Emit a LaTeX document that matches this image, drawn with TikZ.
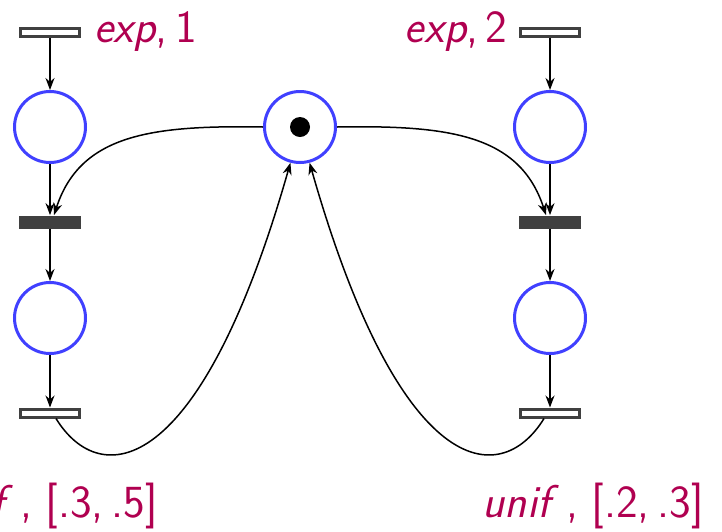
\documentclass[tikz,border=0pt]{standalone}
\usetikzlibrary{arrows.meta}
\definecolor{plblue}{RGB}{64,64,255}
\definecolor{lbl}{RGB}{176,0,80}
\definecolor{trgray}{RGB}{64,64,64}
\begin{document}
\begin{tikzpicture}[x=0.5pt,y=-0.5pt,
  place/.style={circle,draw=plblue,line width=1.5pt,minimum size=35.5pt,inner sep=0pt,fill=white},
  ttrans/.style={rectangle,draw=trgray,line width=1.5pt,minimum width=29.5pt,minimum height=4pt,inner sep=0pt,fill=white},
  itrans/.style={rectangle,fill=trgray,minimum width=31pt,minimum height=6.5pt,inner sep=0pt},
  arc/.style={line width=0.75pt,-{Stealth[length=6pt,width=4.5pt]}},
  lab/.style={text=lbl,font=\sffamily\fontsize{23}{27}\selectfont,inner sep=0pt}]
\useasboundingbox (0,0) rectangle (722,531);
% left column
\node[ttrans] (t1) at (50,32) {};
\node[place] (p1) at (50,127) {};
\node[itrans] (i1) at (50,222) {};
\node[place] (p2) at (50,318) {};
\node[ttrans] (t2) at (50,413) {};
% right column
\node[ttrans] (t3) at (550,32) {};
\node[place] (p3) at (550,127) {};
\node[itrans] (i2) at (550,222) {};
\node[place] (p4) at (550,318) {};
\node[ttrans] (t4) at (550,413) {};
% middle
\node[place] (m) at (300,127) {};
\fill (m.center) circle (5pt);
% labels
\node[lab,anchor=west] (l1) at (94,32) {\textit{exp},\,1};
\node[lab,anchor=east] (l2) at (508,32) {\textit{exp},\,2};
\node[lab,anchor=east] (l3) at (158,506) {\textit{unif}\,,\;[.3,\,.5]};
\node[lab,anchor=east] (l4) at (704,506) {\textit{unif}\,,\;[.2,\,.3]};
% arcs
\draw[arc] (t1) -- (p1);
\draw[arc] (p1) -- (i1);
\draw[arc] (i1) -- (p2);
\draw[arc] (p2) -- (t2);
\draw[arc] (t3) -- (p3);
\draw[arc] (p3) -- (i2);
\draw[arc] (i2) -- (p4);
\draw[arc] (p4) -- (t4);
\draw[arc] (m.west) .. controls (150,125) and (80,135) .. ([xshift=2pt]i1.north);
\draw[arc] (m.east) .. controls (450,125) and (520,135) .. ([xshift=-2pt]i2.north);
\draw[arc] ([xshift=3pt]t2.south) .. controls (100,490) and (200,480) .. (m.-105);
\draw[arc] ([xshift=-3pt]t4.south) .. controls (500,490) and (400,480) .. (m.-75);
\end{tikzpicture}
\end{document}
